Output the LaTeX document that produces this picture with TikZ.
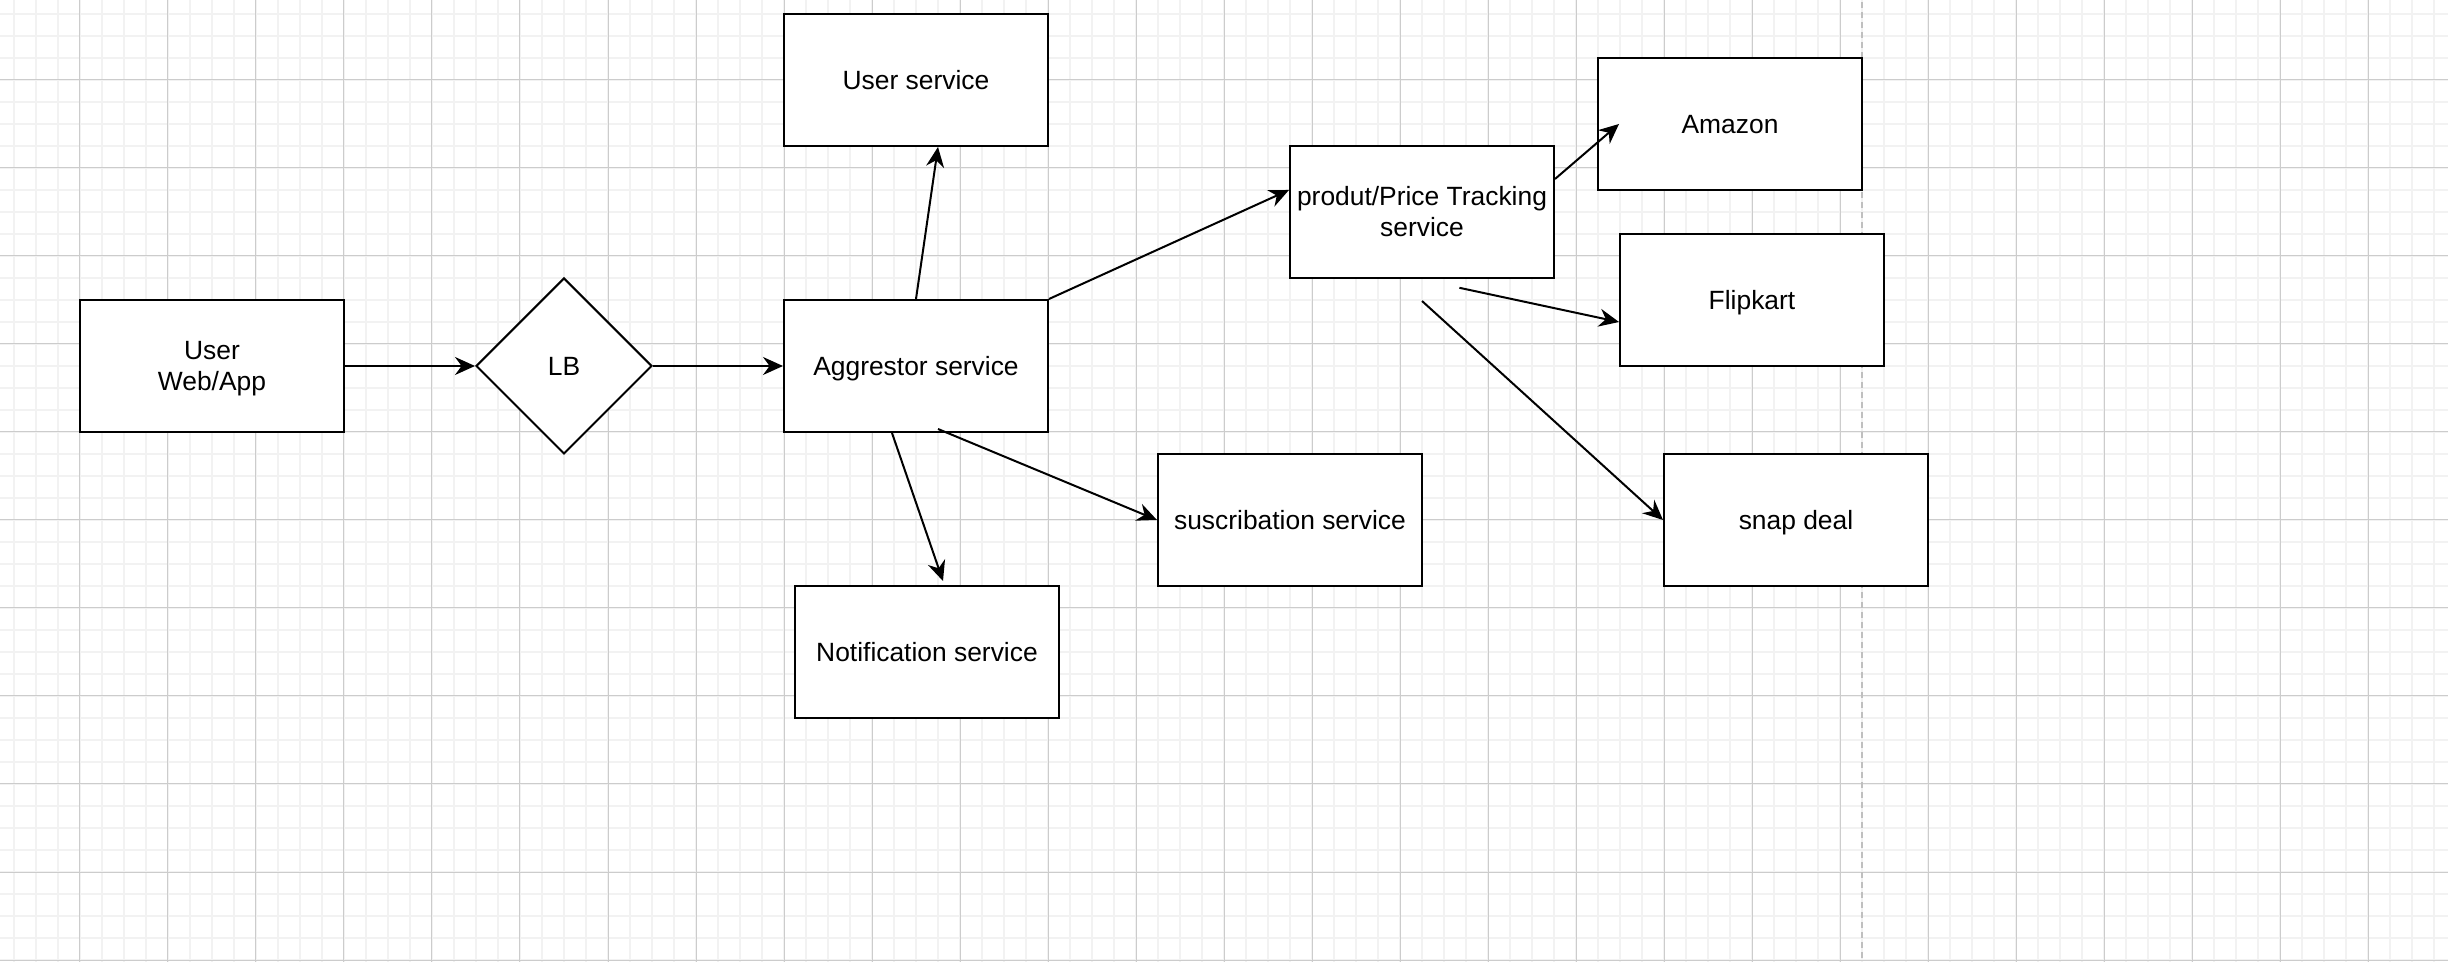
\documentclass[tikz,border=0pt]{standalone}
\usepackage{fontspec}
\setmainfont{Liberation Sans}
\usetikzlibrary{shapes.geometric,arrows.meta}
\begin{document}
\begin{tikzpicture}[x=1.1pt, y=-1.1pt,
            minorline/.style={gray!10, line width=0.8pt},
            majorline/.style={gray!40, line width=0.5pt},
            box/.style={draw, fill=white, line width=1pt, minimum width=132pt, minimum height=66pt,
                inner sep=0pt, align=center, text height=11.95pt, text depth=2.8pt,
                font=\fontsize{13.2}{15.6}\selectfont},
            twoline/.style={text height=27.55pt},
            lbshape/.style={draw, fill=white, diamond, line width=1pt, minimum width=88pt, minimum height=88pt,
                inner sep=0pt, text height=11.95pt, text depth=2.8pt, font=\fontsize{13.2}{15.6}\selectfont},
            arr/.style={-{Stealth[length=10pt,width=9pt,inset=3.3pt]}, line width=1pt}]
            \useasboundingbox (-36.36, -36.36) rectangle (1076.36, 400.9);
            \clip (-36.36, -36.36) rectangle (1076.36, 400.9);
            \fill[white] (-36.36, -36.36) rectangle (1076.36, 400.9);
            \foreach \i in {-30,-20,...,1070} \draw[minorline] (\i, -40) -- (\i, 410);
            \foreach \j in {-30,-20,...,400} \draw[minorline] (-40, \j) -- (1080, \j);
            \foreach \i in {0,40,...,1080} \draw[majorline] (\i, -40) -- (\i, 410);
            \foreach \j in {0,40,...,400} \draw[majorline] (-40, \j) -- (1080, \j);
            \draw[gray!50, line width=0.6pt, dash pattern=on 3pt off 2pt] (810, -40) -- (810, 410);

            \node[box, twoline] (user) at (60, 130) {User\\Web/App};
            \node[lbshape] (lb) at (220, 130) {LB};
            \node[box] (agg) at (380, 130) {Aggrestor service};
            \node[box] (usersvc) at (380, 0) {User service};
            \node[box, twoline] (product) at (610, 60) {produt/Price Tracking\\service};
            \node[box] (amazon) at (750, 20) {Amazon};
            \node[box] (flipkart) at (760, 100) {Flipkart};
            \node[box] (snap) at (780, 200) {snap deal};
            \node[box] (subs) at (550, 200) {suscribation service};
            \node[box] (notif) at (385, 260) {Notification service};

            \draw[arr] (user.east) -- (lb.west);
            \draw[arr] (lb.east) -- (agg.west);
            \draw[arr] (agg.north) -- ([xshift=11pt]usersvc.south);
            \draw[arr] (agg.north east) -- ([yshift=11pt]product.west);
            \draw[arr] ([xshift=-12pt]agg.south) -- ([xshift=8pt,yshift=2pt]notif.north);
            \draw[arr] ([xshift=11pt,yshift=2pt]agg.south) -- (subs.west);
            \draw[arr] ([yshift=16.5pt]product.east) -- ([xshift=11pt]amazon.west);
            \draw[arr] ([xshift=18.7pt,yshift=-4.4pt]product.south) -- ([yshift=-11pt]flipkart.west);
            \draw[arr] ([yshift=-11pt]product.south) -- (snap.west);
\end{tikzpicture}
\end{document}
